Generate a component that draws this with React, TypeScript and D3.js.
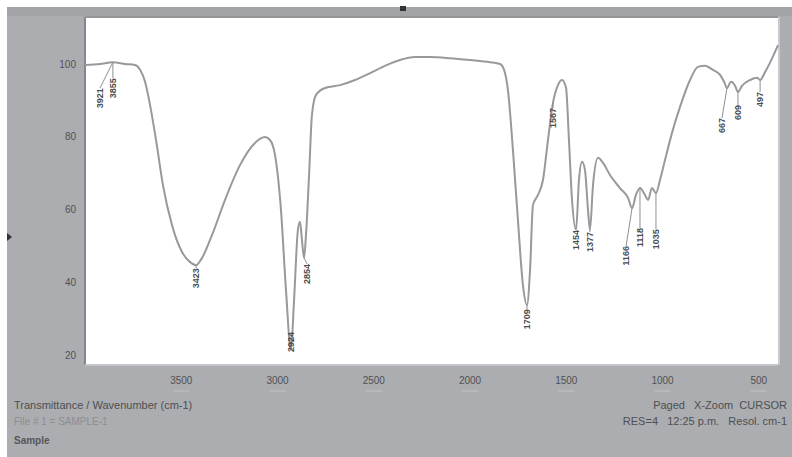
import { scaleLinear, line, curveMonotoneX } from 'd3';

// spectrum: wavenumber (cm-1) and %T
const wavenumbers = [
  4000, 3922, 3855, 3792, 3740, 3714, 3688, 3662, 3631, 3595, 3548, 3496, 3455, 3423, 3392, 3340, 3273, 3195,
  3117, 3065, 3039, 3013, 2982, 2956, 2930, 2914, 2894, 2883, 2873, 2862, 2852, 2836, 2821, 2800, 2753, 2675,
  2597, 2519, 2442, 2364, 2286, 2208, 2104, 2000, 1896, 1844, 1823, 1803, 1777, 1751, 1725, 1704, 1688, 1673,
  1647, 1621, 1595, 1569, 1543, 1522, 1501, 1486, 1470, 1449, 1434, 1418, 1403, 1387, 1377, 1361, 1335, 1309,
  1273, 1221, 1179, 1158, 1138, 1117, 1091, 1075, 1055, 1034, 1013, 987, 951, 909, 857, 816, 779, 738, 701, 680,
  665, 644, 623, 608, 587, 545, 509, 493, 467, 442, 416, 400,
];
const transmittance = [
  99.7, 100, 100.5, 100, 99.7, 98.4, 95.1, 88.7, 79.1, 66.7, 55.7, 48.3, 45.6, 44.7, 46.7, 53.0, 62.6, 72.2,
  78.3, 79.9, 79.1, 75.0, 59.9, 37.9, 21.4, 35.1, 54.4, 56.6, 51.6, 46.7, 53.0, 69.5, 86.0, 91.5, 93.4, 94.2,
  95.6, 97.5, 99.5, 101.1, 101.9, 101.9, 101.6, 101.1, 100.5, 100, 98.4, 92.9, 76.4, 57.1, 39.2, 33.7, 43.4, 61.2,
  64.0, 68.1, 79.1, 89.3, 94.2, 95.6, 93.4, 79.1, 62.6, 54.4, 68.1, 73.1, 70.9, 59.9, 54.4, 66.7, 74.2, 72.8,
  69.5, 65.9, 63.2, 60.4, 64.0, 65.9, 64.0, 62.6, 65.9, 64.5, 68.1, 73.6, 81.0, 88.2, 95.6, 99.2, 99.5, 98.4, 97.0, 95.1,
  93.4, 95.1, 94.0, 92.3, 94.0, 95.6, 96.2, 95.6, 97.8, 100.3, 103.3, 105.2,
];

// peak picks
const peakWn = [3855, 3855, 3423, 2930, 2862, 1704, 1569, 1449, 1377, 1158, 1117, 1034, 665, 608, 493];
const peakT = [100.5, 100.5, 44.7, 21.4, 46.7, 33.7, 89.3, 54.4, 54.4, 60.4, 65.9, 64.5, 93.4, 92.3, 95.6];
const peakText = ['3921', '3855', '3423', '2924', '2854', '1709', '1567', '1454', '1377', '1166', '1118', '1035', '667', '609', '497'];

const xTicks = [3500, 3000, 2500, 2000, 1500, 1000, 500];
const yTicks = [100, 80, 60, 40, 20];

// label placement relative to the peak (px)
const labelShift = [
  [-13, 26], [0, 16], [0, 3], [0, -18], [3, 6], [0, 4], [0, 5], [0, 0], [0, 2],
  [-6, 38], [0, 40], [0, 36], [-5, 30], [0, 13], [0, 12],
];

const font = '"Liberation Sans", Arial, sans-serif';

export default function App() {
  const width = 792;
  const height = 457;
  const plot = { left: 85, right: 778, top: 17, bottom: 365 };

  const x = scaleLinear().domain([4000, 400]).range([plot.left, plot.right]);
  const y = scaleLinear().domain([20, 100]).range([355, 64]);

  const pts = wavenumbers.map((w, i) => [x(w), y(transmittance[i])] as [number, number]);
  const path = line().curve(curveMonotoneX)(pts) || '';

  return (
    <svg
      width={width}
      height={height}
      style={{ position: 'absolute', left: 0, top: 0, fontFamily: font }}
    >
      <rect width={width} height={height} fill="#ffffff" />
      <rect x={7} y={7} width={width - 7} height={height - 7} fill="#abadb1" />
      <rect x={7} y={7} width={width - 7} height={9} fill="#a2a4a8" />
      <rect x={400} y={6} width={6} height={5} fill="#333" />
      <path d="M7,233 L12,237 L7,241 Z" fill="#333" />

      <rect
        x={plot.left}
        y={plot.top}
        width={plot.right - plot.left}
        height={plot.bottom - plot.top}
        fill="#ffffff"
      />
      <line x1={plot.left} x2={plot.left} y1={plot.top} y2={plot.bottom} stroke="#85878b" strokeWidth={2} />
      <line x1={plot.left} x2={plot.right} y1={plot.top} y2={plot.top} stroke="#94969a" strokeWidth={2} />
      <line x1={plot.left} x2={plot.right} y1={plot.bottom} y2={plot.bottom} stroke="#c4c5c8" strokeWidth={2} />
      <line x1={plot.right + 1} x2={plot.right + 1} y1={plot.top} y2={plot.bottom} stroke="#c9cacc" strokeWidth={2} />

      {yTicks.map((t) => (
        <text key={t} x={76} y={y(t)} textAnchor="end" dominantBaseline="central" fontSize={10} fill="#505154">
          {t}
        </text>
      ))}
      {xTicks.map((t) => (
        <g key={t}>
          <text x={x(t)} y={384} textAnchor="middle" fontSize={10} fill="#505154">
            {t}
          </text>
          <line x1={x(t) - 8} x2={x(t) + 8} y1={391} y2={391} stroke="#c2c3c6" />
        </g>
      ))}

      <path d={path} fill="none" stroke="#98999c" strokeWidth={2} strokeLinejoin="round" />

      {peakWn.map((w, i) => {
        const px = x(w);
        const py = y(peakT[i]);
        const lx = px + labelShift[i][0];
        const ly = py + labelShift[i][1];
        return (
          <g key={i}>
            <line x1={px} y1={py} x2={lx} y2={ly} stroke="#8e8f92" strokeWidth={1} />
            <text
              transform={`translate(${lx + 3}, ${ly}) rotate(-90)`}
              textAnchor="end"
              fontSize={9}
              fontWeight="bold"
              fill="#4a4b4e"
            >
              {peakText[i]}
            </text>
          </g>
        );
      })}

      <text x={14} y={409} fontSize={11} fill="#4e4f52">
        Transmittance / Wavenumber (cm-1)
      </text>
      <text x={14} y={425} fontSize={10} fill="#8d8e91">
        File # 1 = SAMPLE-1
      </text>
      <text x={14} y={444} fontSize={10} fontWeight="bold" fill="#55565a">
        Sample
      </text>
      <text x={787} y={409} textAnchor="end" fontSize={11} fill="#4e4f52" style={{ whiteSpace: 'pre' }}>
        {'Paged   X-Zoom  CURSOR'}
      </text>
      <text x={787} y={425} textAnchor="end" fontSize={11} fill="#4e4f52" style={{ whiteSpace: 'pre' }}>
        {'RES=4   12:25 p.m.   Resol. cm-1'}
      </text>
    </svg>
  );
}
